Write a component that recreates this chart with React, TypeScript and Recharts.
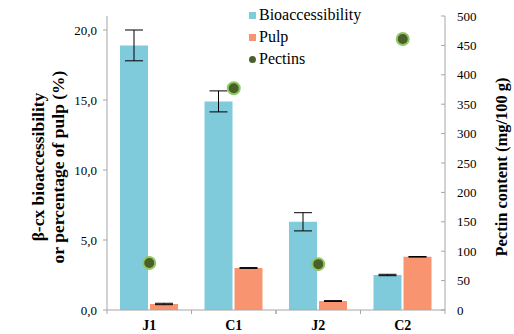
import React from 'react';
import {
    ComposedChart,
    Bar,
    Line,
    XAxis,
    YAxis,
    ErrorBar
} from 'recharts';

const samples = ['J1', 'C1', 'J2', 'C2'];
const bioaccessibility = [18.9, 14.9, 6.3, 2.5];
const bioError = [1.1, 0.75, 0.65, 0.05];
const pulp = [0.43, 3.0, 0.64, 3.8];
const pulpError = [0.05, 0.03, 0.03, 0.02];
const pectins = [80, 377, 78, 461];
const leftTicks = [0, 5, 10, 15, 20];
const rightTicks = [0, 50, 100, 150, 200, 250, 300, 350, 400, 450, 500];

const BIO = '#7fcadb';
const PULP = '#f89470';
const DOT = '#4b5f28';
const DOT_RING = '#8fc865';
const AXIS = '#a6a6a6';
const FONT = 'Liberation Serif';

const W = 514;
const H = 334;
const LEFT_W = 107;
const RIGHT_W = 69;

const data = samples.map((s, i) => ({
    name: s,
    bio: bioaccessibility[i],
    bioErr: bioError[i],
    pulp: pulp[i],
    pulpErr: pulpError[i],
    pectin: pectins[i],
}));

const legendItems = [
    { label: 'Bioaccessibility', color: BIO, shape: 'square' },
    { label: 'Pulp', color: PULP, shape: 'square' },
    { label: 'Pectins', color: DOT, shape: 'circle' },
];

// legend stacked over the top middle of the plot
const LegendBox = () => (
    <div
        style={{
            position: 'absolute',
            left: 249,
            top: 4,
            fontFamily: FONT,
            fontSize: 16,
            color: '#000',
        }}
    >
        {legendItems.map((it) => (
            <div key={it.label} style={{ display: 'flex', alignItems: 'center', height: 22 }}>
                <span
                    style={{
                        width: 7,
                        height: 7,
                        background: it.color,
                        borderRadius: it.shape === 'circle' ? '50%' : 0,
                        marginRight: 3,
                        display: 'inline-block',
                    }}
                />
                {it.label}
            </div>
        ))}
    </div>
);

// category label plus the small separator ticks at band edges
const band = (W - LEFT_W - RIGHT_W) / samples.length;
const CategoryTick = (props: any) => {
    const { x, y, payload } = props;
    const axisY = y - 12;
    return (
        <g>
            <line x1={x - band / 2} x2={x - band / 2} y1={axisY} y2={axisY + 4} stroke={AXIS} />
            <line x1={x + band / 2} x2={x + band / 2} y1={axisY} y2={axisY + 4} stroke={AXIS} />
            <text
                x={x}
                y={axisY + 20}
                textAnchor="middle"
                fontFamily={FONT}
                fontSize={14}
                fontWeight="bold"
                fill="#000"
            >
                {payload.value}
            </text>
        </g>
    );
};

const fmtLeft = (v: number) => v.toFixed(1).replace('.', ',');

const App: React.FC = () => (
    <div style={{ position: 'absolute', left: 0, top: 0, width: W, height: H, background: '#fff' }}>
        <ComposedChart
            width={W}
            height={H}
            data={data}
            margin={{ top: 16, right: 0, left: 0, bottom: 0 }}
            barGap={2}
        >
            <XAxis
                dataKey="name"
                height={24}
                stroke={AXIS}
                tickLine={false}
                tick={<CategoryTick />}
                tickMargin={6}
            />
            <YAxis
                yAxisId="left"
                width={LEFT_W}
                domain={[0, 21]}
                ticks={leftTicks}
                tickFormatter={fmtLeft}
                stroke={AXIS}
                tickSize={4}
                tickMargin={6}
                tick={{ fill: '#000', fontFamily: FONT, fontSize: 13 }}
                label={{
                    content: () => (
                        <text
                            transform="translate(50,167) rotate(-90)"
                            textAnchor="middle"
                            fontFamily={FONT}
                            fontSize={17.5}
                            fontWeight="bold"
                            fill="#000"
                        >
                            <tspan x={0} dy={-6}>β-cx bioaccessibility</tspan>
                            <tspan x={0} dy={20}>or percentage of pulp (%)</tspan>
                        </text>
                    ),
                }}
            />
            <YAxis
                yAxisId="right"
                orientation="right"
                width={RIGHT_W}
                domain={[0, 500]}
                ticks={rightTicks}
                stroke={AXIS}
                tickSize={-4}
                tickMargin={16}
                tick={{ fill: '#000', fontFamily: FONT, fontSize: 13 }}
                label={{
                    content: () => (
                        <text
                            transform="translate(507,167) rotate(-90)"
                            textAnchor="middle"
                            fontFamily={FONT}
                            fontSize={16.5}
                            fontWeight="bold"
                            fill="#000"
                        >
                            Pectin content (mg/100 g)
                        </text>
                    ),
                }}
            />
            <Bar yAxisId="left" dataKey="bio" fill={BIO} barSize={28} isAnimationActive={false}>
                <ErrorBar dataKey="bioErr" width={9} stroke="#000" strokeWidth={1} direction="y" />
            </Bar>
            <Bar yAxisId="left" dataKey="pulp" fill={PULP} barSize={28} isAnimationActive={false}>
                <ErrorBar dataKey="pulpErr" width={9} stroke="#000" strokeWidth={1} direction="y" />
            </Bar>
            <Line
                yAxisId="right"
                dataKey="pectin"
                stroke="none"
                dot={{ r: 6, fill: DOT, stroke: DOT_RING, strokeWidth: 2 }}
                activeDot={false}
                isAnimationActive={false}
            />
        </ComposedChart>
        <LegendBox />
    </div>
);

export default App;
